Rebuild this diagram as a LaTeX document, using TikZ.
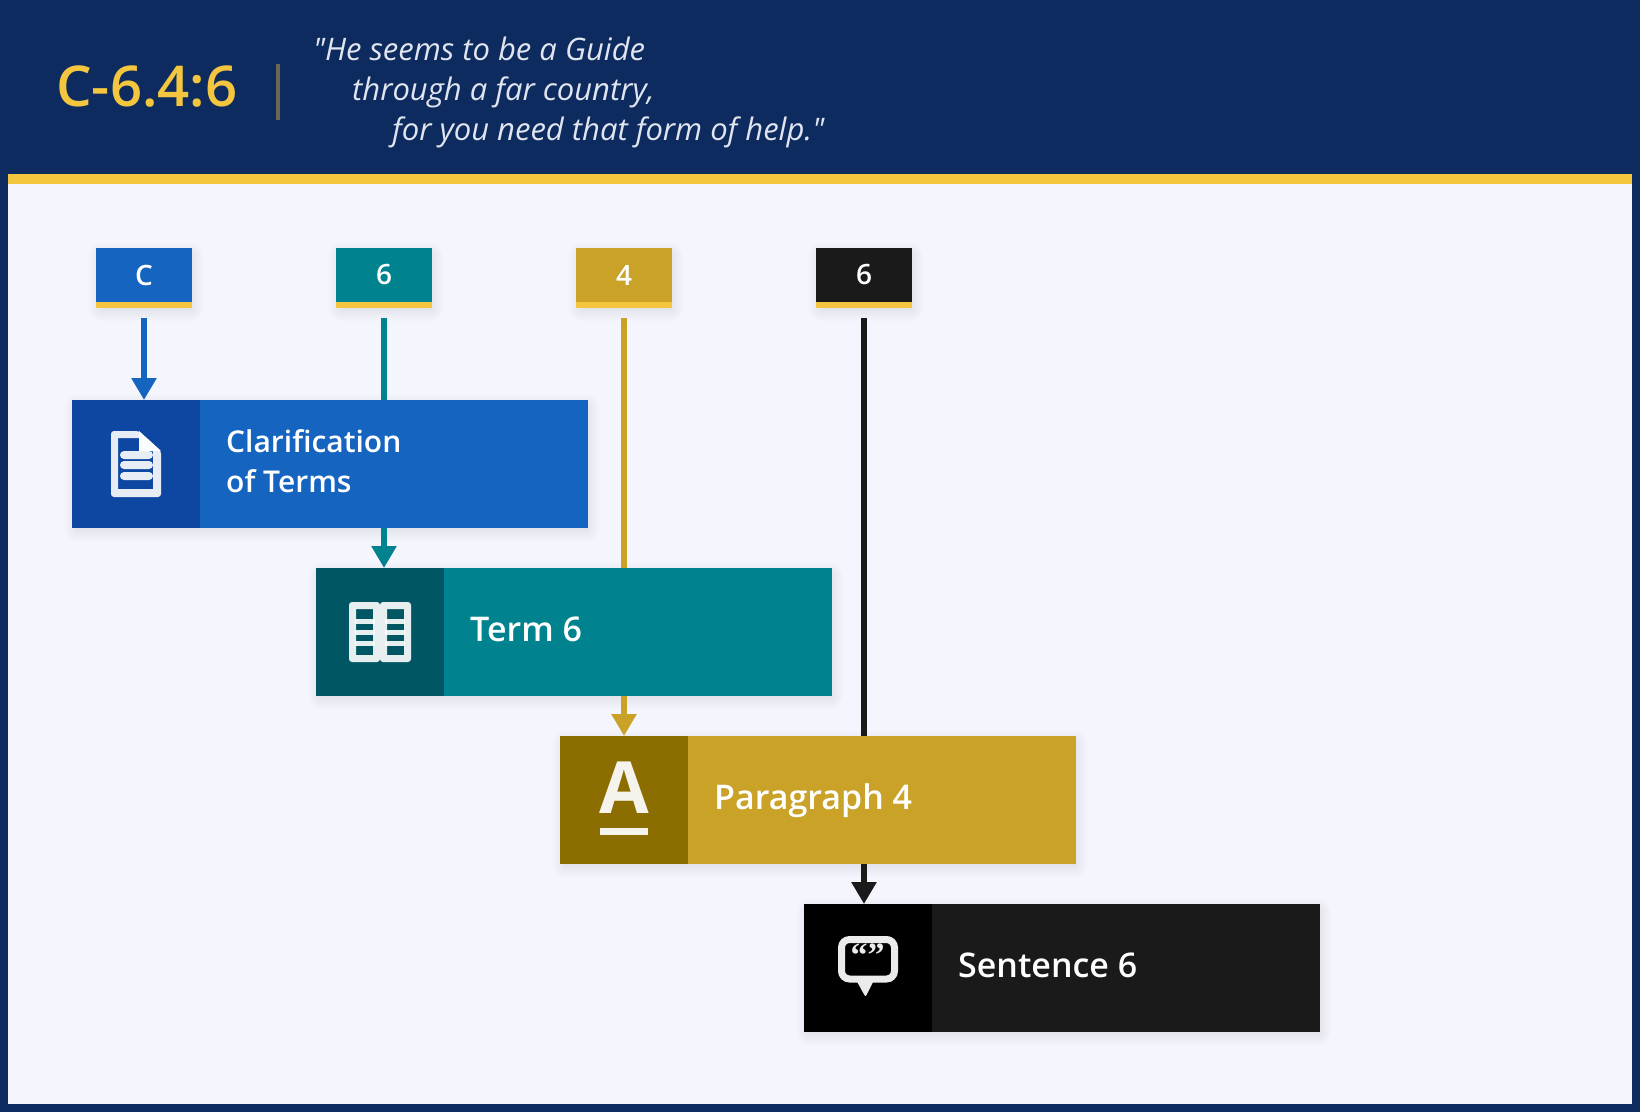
\documentclass[tikz,border=0pt]{standalone}
\usepackage{fontspec}
\setmainfont{Open Sans}
\newfontfamily\semifont{Open Sans Semibold}
\newfontfamily\quotefont{Open Sans}
\newfontfamily\markfont{Liberation Serif}
\usetikzlibrary{positioning,calc,arrows.meta,backgrounds}

\definecolor{navy}{HTML}{0D2B5E}
\definecolor{gold}{HTML}{F4C63F}
\definecolor{panel}{HTML}{F4F5FD}
\definecolor{cblue}{HTML}{1565C0}
\definecolor{cbluedk}{HTML}{0D47A1}
\definecolor{cteal}{HTML}{00838F}
\definecolor{ctealdk}{HTML}{005662}
\definecolor{cochre}{HTML}{C9A227}
\definecolor{cochredk}{HTML}{8B6D00}
\definecolor{cblack}{HTML}{1A1A1A}
\definecolor{bubbleink}{HTML}{EBEBEB}

\tikzset{
	tagbox/.style={minimum width=96pt, minimum height=54pt, inner sep=0pt, outer sep=0pt, text=white, font=\semifont\fontsize{28}{30}\selectfont},
	tagbar/.style={minimum width=96pt, minimum height=6pt, inner sep=0pt, outer sep=0pt, fill=gold},
	iconbox/.style={minimum width=128pt, minimum height=128pt, inner sep=0pt, outer sep=0pt},
	bodybox/.style={minimum width=388pt, minimum height=128pt, inner sep=0pt, outer sep=0pt},
	wraptext/.style={anchor=west, inner sep=0pt, align=left, text=white, font=\semifont\fontsize{30}{40}\selectfont},
	bodytext/.style={anchor=base west, inner sep=0pt, text=white, font=\semifont\fontsize{34}{40}\selectfont},
	conn/.style={line width=6pt, -{Triangle[width=24pt,length=22pt]}},
	quoteline/.style={anchor=base west, inner sep=0pt, text=panel!92!navy, font=\quotefont\itshape\fontsize{31}{40}\selectfont},
	iconink/.style={fill=white, fill opacity=0.9},
}

\newcommand{\softshadow}[2]{
	\foreach \r in {-4,-2.5,...,9.5}
		\fill[black, opacity=0.009, rounded corners=\r pt+4pt] ($(#1)+(2-\r,4-\r)$) rectangle ($(#2)+(2+\r,4+\r)$);
}

\begin{document}
\begin{tikzpicture}[x=1pt, y=-1pt]
	\useasboundingbox (0,0) rectangle (1640,1112);

	\node[anchor=base west, inner sep=0pt, text=gold, font=\semifont\fontsize{56.3}{60}\selectfont] (title) at (56,106) {C-6.4:6};
	\node[quoteline] (qa) at (313,60) {"He seems to be a Guide};
	\node[quoteline] (qb) at (352,100) {through a far country,};
	\node[quoteline] (qc) at (392,140) {for you need that form of help."};

	\node[tagbox, fill=cblue] (tagc) at (144,275) {C};
	\node[tagbox, fill=cteal] (tagt) at (384,275) {6};
	\node[tagbox, fill=cochre] (tagp) at (624,275) {4};
	\node[tagbox, fill=cblack] (tags) at (864,275) {6};
	\node[tagbar, below=0pt of tagc] (barc) {};
	\node[tagbar, below=0pt of tagt] (bart) {};
	\node[tagbar, below=0pt of tagp] (barp) {};
	\node[tagbar, below=0pt of tags] (bars) {};

	\node[iconbox, fill=cbluedk] (iconc) at (136,464) {};
	\node[iconbox, fill=ctealdk] (icont) at (380,632) {};
	\node[iconbox, fill=cochredk] (iconp) at (624,800) {};
	\node[iconbox, fill=black] (icons) at (868,968) {};
	\node[bodybox, fill=cblue, right=0pt of iconc] (boxc) {};
	\node[bodybox, fill=cteal, right=0pt of icont] (boxt) {};
	\node[bodybox, fill=cochre, right=0pt of iconp] (boxp) {};
	\node[bodybox, fill=cblack, right=0pt of icons] (boxs) {};

	\node[wraptext] (textc) at ($(boxc.west)+(26,-3)$) {Clarification\\of Terms};
	\node[bodytext] (textt) at ($(boxt.west)+(26,9)$) {Term 6};
	\node[bodytext] (textp) at ($(boxp.west)+(26,9)$) {Paragraph 4};
	\node[bodytext] (texts) at ($(boxs.west)+(26,9)$) {Sentence 6};

	\begin{scope}[on background layer]
		\fill[navy] (0,0) rectangle (1640,1112);
		\fill[panel] (8,184) rectangle (1632,1104);
		\fill[gold] (8,174) rectangle (1632,184);
		\fill[gold, opacity=0.4] (276,64) rectangle (280,120);

		\softshadow{tagc.north west}{barc.south east}
		\softshadow{tagt.north west}{bart.south east}
		\softshadow{tagp.north west}{barp.south east}
		\softshadow{tags.north west}{bars.south east}
		\softshadow{iconc.north west}{boxc.south east}
		\softshadow{icont.north west}{boxt.south east}
		\softshadow{iconp.north west}{boxp.south east}
		\softshadow{icons.north west}{boxs.south east}

		\draw[conn, cblue, shorten <=10pt] (barc.south) -- (barc.south |- boxc.north);
		\draw[conn, cteal, shorten <=10pt] (bart.south) -- (bart.south |- boxt.north);
		\draw[conn, cochre, shorten <=10pt] (barp.south) -- (barp.south |- boxp.north);
		\draw[conn, cblack, shorten <=10pt] (bars.south) -- (bars.south |- boxs.north);
	\end{scope}

	\begin{scope}[even odd rule]
		\fill[iconink, rounded corners=3pt] (111,431) -- (139,431) -- (161,451) -- (161,497) -- (111,497) -- cycle
			[sharp corners] (118,438) -- (139,438) -- (139,451) -- (153,451) -- (153,489) -- (118,489) -- cycle;
		\fill[iconink] (139,431) -- (161,451) -- (139,451) -- cycle;
	\end{scope}
	\foreach \y in {455,465,476}
		\fill[iconink, rounded corners=4pt] (120,\y-4) rectangle (153,\y+4);

	\begin{scope}[even odd rule]
		\fill[iconink, rounded corners=3pt] (349,602) rectangle (380,662) [sharp corners] (356,609) rectangle (373,655);
		\fill[iconink, rounded corners=3pt] (380,602) rectangle (411,662) [sharp corners] (387,609) rectangle (404,655);
	\end{scope}
	\foreach \y in {621.5,632.5,643.5} {
		\fill[white, opacity=0.9] (355,\y-2.5) rectangle (375,\y+2.5);
		\fill[white, opacity=0.9] (385,\y-2.5) rectangle (405,\y+2.5);
	}

	\node[anchor=base, inner sep=0pt, text=white, text opacity=0.92, font=\bfseries\fontsize{72}{72}\selectfont] (glyph) at (624,813) {A};
	\fill[white, opacity=0.92] (600,828) rectangle (648,835);

	\draw[bubbleink, line width=7pt, rounded corners=8pt] (841.5,939.5) rectangle (894.5,979);
	\fill[bubbleink, rounded corners=2pt] (855,978) -- (875,978) -- (865.5,997) -- cycle;
	\node[anchor=base, inner sep=0pt, text=bubbleink, font=\markfont\bfseries\fontsize{34}{34}\selectfont] (marks) at (867.5,966) {“”};
\end{tikzpicture}
\end{document}
